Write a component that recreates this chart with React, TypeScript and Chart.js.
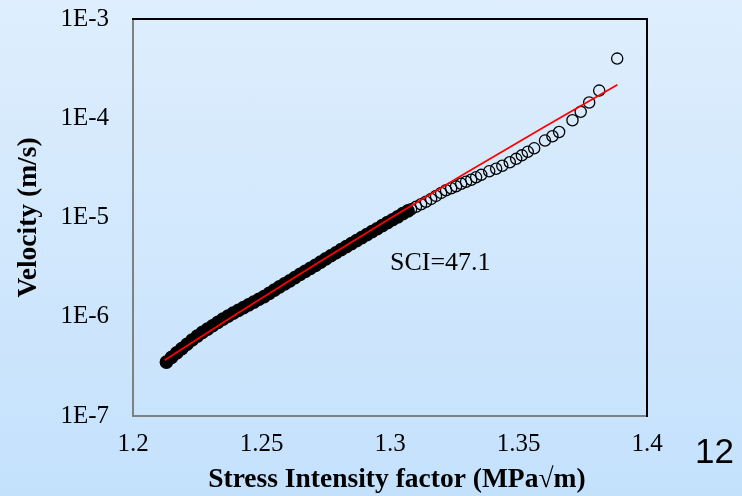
import { useEffect, useRef } from 'react';
import { Chart, registerables } from 'chart.js';

Chart.register(...registerables);

// Crack velocity (m/s, log scale) against stress intensity factor K (MPa√m).

// Continuous part of the record, where the measurements overlap into a solid band.
const denseK = [
  1.213, 1.215, 1.217, 1.219, 1.221, 1.223, 1.225, 1.227, 1.229, 1.231, 1.233, 1.235,
  1.237, 1.239, 1.241, 1.243, 1.245, 1.247, 1.249, 1.251, 1.253, 1.255, 1.257,
  1.259, 1.261, 1.263, 1.265, 1.267, 1.269, 1.271, 1.273, 1.275, 1.277, 1.279, 1.281,
  1.283, 1.285, 1.287, 1.289, 1.291, 1.293, 1.295, 1.297, 1.299, 1.301,
  1.303, 1.305, 1.307,
];
const denseV = [
  3.49e-7, 3.9e-7, 4.32e-7, 4.77e-7, 5.28e-7, 5.83e-7, 6.37e-7, 6.96e-7, 7.52e-7, 8.12e-7, 8.76e-7, 9.46e-7,
  1.013e-6, 1.088e-6, 1.161e-6, 1.238e-6, 1.32e-6, 1.407e-6, 1.5e-6, 1.598e-6, 1.723e-6, 1.858e-6, 2.003e-6,
  2.144e-6, 2.299e-6, 2.477e-6, 2.669e-6, 2.861e-6, 3.075e-6, 3.297e-6, 3.55e-6, 3.823e-6, 4.117e-6, 4.411e-6, 4.737e-6,
  5.086e-6, 5.463e-6, 5.85e-6, 6.28e-6, 6.722e-6, 7.196e-6, 7.703e-6, 8.27e-6, 8.869e-6, 9.494e-6,
  1.016e-5, 1.092e-5, 1.166e-5,
];

// Sparser readings at high K.
const tailK = [
  1.3082, 1.3101, 1.3121, 1.314, 1.316, 1.3179, 1.3199, 1.3218, 1.3238, 1.3257,
  1.3277, 1.3296, 1.3316, 1.3335, 1.3355, 1.3386, 1.3413, 1.3437, 1.3466, 1.3491,
  1.3513, 1.3536, 1.3561, 1.3603, 1.3632, 1.3658, 1.371, 1.3742, 1.3775, 1.3814, 1.3884,
];
const tailV = [
  1.21e-5, 1.28e-5, 1.36e-5, 1.44e-5, 1.54e-5, 1.65e-5, 1.77e-5, 1.88e-5, 1.97e-5, 2.06e-5,
  2.19e-5, 2.29e-5, 2.4e-5, 2.54e-5, 2.69e-5, 2.92e-5, 3.1e-5, 3.32e-5, 3.6e-5, 3.9e-5,
  4.23e-5, 4.59e-5, 4.98e-5, 5.96e-5, 6.58e-5, 7.27e-5, 9.54e-5, 1.16e-4, 1.44e-4, 1.9e-4, 3.99e-4,
];

// Power-law fit V = A·K^n (n = SCI).
const fitK = [1.2123, 1.24, 1.27, 1.3, 1.33, 1.36, 1.3885];
const fitV = [3.64e-7, 1.054e-6, 3.25e-6, 9.76e-6, 2.861e-5, 8.18e-5, 2.178e-4];

const xTicks = [1.2, 1.25, 1.3, 1.35, 1.4];
const xTickLabels = ['1.2', '1.25', '1.3', '1.35', '1.4'];
const yTicks = [1e-7, 1e-6, 1e-5, 1e-4, 1e-3];
const yTickLabels = ['1E-7', '1E-6', '1E-5', '1E-4', '1E-3'];

// leading en space nudges the centred axis title slightly to the right
const xTitle = '\u2002Stress Intensity factor (MPa√m)';
const yTitle = 'Velocity (m/s)';
const sciLabel = 'SCI=47.1';
const sciAt = { x: 1.3, y: 3.5e-6 };
const pageNumber = '12';

const SERIF = '"Liberation Serif", "Times New Roman", serif';
const SANS = '"Liberation Sans", Arial, sans-serif';

const toPoints = (xs: number[], ys: number[]) => xs.map((x, i) => ({ x, y: ys[i] }));

const framePlugin = {
  id: 'frameAndNotes',
  afterDraw(chart: any) {
    const { ctx, chartArea: a, scales } = chart;
    ctx.save();
    // top and right edges of the plot frame
    ctx.strokeStyle = '#000';
    ctx.lineWidth = 2;
    ctx.lineJoin = 'miter';
    ctx.beginPath();
    ctx.moveTo(a.left - 1, a.top);
    ctx.lineTo(a.right, a.top);
    ctx.lineTo(a.right, a.bottom + 1);
    ctx.stroke();

    // fit annotation
    ctx.fillStyle = '#000';
    ctx.font = `26px ${SERIF}`;
    ctx.textAlign = 'left';
    ctx.textBaseline = 'middle';
    ctx.fillText(sciLabel, scales.x.getPixelForValue(sciAt.x), scales.y.getPixelForValue(sciAt.y));

    // page number
    ctx.font = `35px ${SANS}`;
    ctx.textBaseline = 'alphabetic';
    ctx.fillText(pageNumber, chart.width - 47, 463);
    ctx.restore();
  },
};

export default function App() {
  const ref = useRef<HTMLCanvasElement | null>(null);

  useEffect(() => {
    if (!ref.current) return;
    const chart = new Chart(ref.current, {
      type: 'scatter',
      data: {
        datasets: [
          {
            label: 'Fit',
            data: toPoints(fitK, fitV),
            showLine: true,
            borderColor: '#ff0000',
            borderWidth: 1.8,
            pointRadius: 0,
            fill: false,
            order: 0,
          },
          {
            label: 'Tail',
            data: toPoints(tailK, tailV),
            pointStyle: 'circle',
            pointRadius: 5.6,
            pointBorderWidth: 1.3,
            borderColor: '#000',
            backgroundColor: 'rgba(0,0,0,0)',
            order: 1,
          },
          {
            label: 'Dense',
            data: toPoints(denseK, denseV),
            pointStyle: 'circle',
            pointRadius: 6.2,
            pointBorderWidth: 1.3,
            borderColor: '#000',
            backgroundColor: '#000',
            order: 2,
          },
        ],
      },
      options: {
        animation: false,
        responsive: false,
        maintainAspectRatio: false,
        devicePixelRatio: 1,
        events: [],
        layout: { padding: { top: 19, right: 95, left: 0, bottom: 0 } },
        plugins: {
          legend: { display: false },
          tooltip: { enabled: false },
        },
        scales: {
          x: {
            type: 'linear',
            min: 1.2,
            max: 1.4,
            afterBuildTicks: (s: any) => {
              s.ticks = xTicks.map((v) => ({ value: v }));
            },
            afterFit: (s: any) => {
              s.height = 80;
              s.paddingLeft = 0;
              s.paddingRight = 0;
              s.paddingTop = 0;
              s.paddingBottom = 0;
            },
            ticks: {
              callback: (_v: any, i: number) => xTickLabels[i],
              color: '#000',
              font: { family: SERIF, size: 25 },
              padding: 13,
              maxRotation: 0,
              autoSkip: false,
            },
            grid: { display: false, drawTicks: false, tickLength: 0 },
            border: { display: true, color: '#808080', width: 2 },
            title: {
              display: true,
              text: xTitle,
              color: '#000',
              font: { family: SERIF, size: 27.5, weight: 'bold' },
              padding: { top: 0, bottom: 0 },
            },
          },
          y: {
            type: 'logarithmic',
            min: 1e-7,
            max: 1e-3,
            afterBuildTicks: (s: any) => {
              s.ticks = yTicks.map((v) => ({ value: v }));
            },
            afterFit: (s: any) => {
              s.width = 133;
              s.paddingLeft = 0;
              s.paddingRight = 0;
              s.paddingTop = 0;
              s.paddingBottom = 0;
            },
            ticks: {
              callback: (_v: any, i: number) => yTickLabels[i],
              color: '#000',
              font: { family: SERIF, size: 25 },
              padding: 24,
              autoSkip: false,
            },
            grid: { display: false, drawTicks: false, tickLength: 0 },
            border: { display: true, color: '#808080', width: 2 },
            title: {
              display: true,
              text: yTitle,
              color: '#000',
              font: { family: SERIF, size: 27.5, weight: 'bold' },
              padding: { top: 12, bottom: 0 },
            },
          },
        },
      } as any,
      plugins: [framePlugin],
    });
    return () => chart.destroy();
  }, []);

  return (
    <div
      style={{
        position: 'fixed',
        left: 0,
        top: 0,
        width: 742,
        height: 496,
        background: 'linear-gradient(180deg, #DEEEFD 0%, #C4E1FC 100%)',
      }}
    >
      <canvas ref={ref} width={742} height={496} style={{ display: 'block' }} />
    </div>
  );
}
